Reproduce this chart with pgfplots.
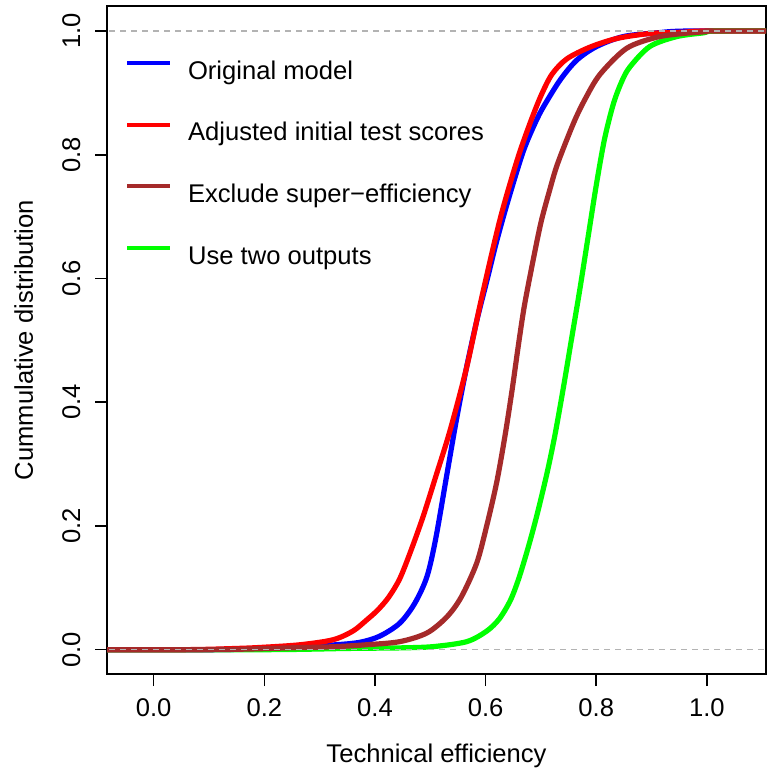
\documentclass[border=0pt]{standalone}
\usepackage{fontspec}
\setmainfont{Liberation Sans}
\usepackage{pgfplots}
\pgfplotsset{compat=1.18}
\usetikzlibrary{calc}

\definecolor{rbrown}{RGB}{165,42,42}
\definecolor{rgreen}{RGB}{0,255,0}
\definecolor{gray70}{RGB}{179,179,179}

\newcommand{\rfont}{\fontsize{12.8}{15}\selectfont}

\begin{document}
\begin{tikzpicture}
\begin{axis}[
    name=ax,
    scale only axis,
    width=329.5pt, height=334pt,
    xmin=-0.0844, xmax=1.107,
    ymin=-0.0393, ymax=1.0404,
    xtick={0,0.2,0.4,0.6,0.8,1.0},
    ytick={0,0.2,0.4,0.6,0.8,1.0},
    xtick pos=bottom, ytick pos=left,
    tick align=outside,
    major tick length=6pt,
    axis line style={line width=0.8pt},
    tick style={line width=0.8pt, black},
    /pgf/number format/.cd, fixed, fixed zerofill, precision=1, assume math mode=true,
    /pgfplots/.cd,
    xticklabel style={font=\rfont, anchor=base, yshift=-15.3pt},
    yticklabel style={font=\rfont, xshift=-7.5pt, rotate=90, anchor=base},
    xlabel={Technical efficiency},
    ylabel={Cummulative distribution},
    xlabel style={font=\rfont, at={(axis description cs:0.5,-0.1332)}, anchor=base},
    ylabel style={font=\rfont, at={(axis description cs:-0.1123,0.5)}, anchor=base},
    legend cell align=left,
    legend style={draw=none, fill=none, inner sep=0pt, outer sep=0pt,
                  at={(axis description cs:0.028,0.919)}, anchor=north west,
                  font=\rfont, row sep=18.65pt, column sep=7.8pt,
                  nodes={inner sep=0pt, text height=9.5pt, text depth=2.7pt}},
    legend image code/.code={\draw[line width=2pt, #1] (0pt,4.6pt) -- (21.5pt,4.6pt);},
    every axis plot/.append style={line width=2.6pt, line join=round, smooth, tension=0.5},
]
\addplot[blue] coordinates {
(-0.2,0) (0.10,0.000) (0.20,0.002) (0.283,0.006) (0.33,0.008) (0.373,0.012)
(0.409,0.022) (0.445,0.043) (0.472,0.075) (0.494,0.118) (0.510,0.180)
(0.530,0.283) (0.548,0.375) (0.566,0.458) (0.585,0.535) (0.602,0.595)
(0.620,0.660) (0.641,0.727) (0.668,0.805) (0.690,0.852) (0.705,0.878)
(0.735,0.921) (0.765,0.953) (0.801,0.975) (0.849,0.991) (0.910,0.997)
(0.97,1.0) (1.2,1.0)};
\addplot[red] coordinates {
(-0.2,0) (0.05,0.000) (0.15,0.002) (0.20,0.004) (0.265,0.008) (0.324,0.016)
(0.36,0.030) (0.385,0.048) (0.405,0.064) (0.425,0.085) (0.445,0.115)
(0.465,0.160) (0.487,0.215) (0.510,0.280) (0.536,0.355) (0.566,0.457)
(0.592,0.565) (0.626,0.695) (0.657,0.791) (0.680,0.850) (0.700,0.895)
(0.720,0.930) (0.747,0.955) (0.789,0.974) (0.838,0.988) (0.898,0.996)
(0.957,0.998) (1.0,1.0) (1.2,1.0)};
\addplot[rgreen, forget plot] coordinates {
(-0.2,0) (0.2,0.000) (0.35,0.002) (0.45,0.003) (0.506,0.005) (0.566,0.013)
(0.602,0.030) (0.625,0.050) (0.645,0.080) (0.660,0.115) (0.677,0.165)
(0.693,0.218) (0.711,0.285) (0.725,0.345) (0.740,0.420) (0.755,0.500)
(0.770,0.580) (0.785,0.665) (0.800,0.750) (0.815,0.825) (0.831,0.882)
(0.846,0.918) (0.861,0.942) (0.897,0.975) (0.946,0.991) (0.994,0.997)
(1.02,1.0) (1.2,1.0)};
\addplot[rbrown] coordinates {
(-0.2,0) (0.10,0.000) (0.25,0.003) (0.33,0.005) (0.385,0.008) (0.445,0.013)
(0.494,0.027) (0.530,0.053) (0.556,0.085) (0.584,0.140) (0.602,0.200)
(0.620,0.270) (0.635,0.345) (0.648,0.420) (0.659,0.490) (0.670,0.555)
(0.685,0.625) (0.700,0.690) (0.715,0.740) (0.730,0.785) (0.759,0.851)
(0.780,0.890) (0.807,0.930) (0.855,0.972) (0.910,0.990) (0.958,0.996)
(1.000,0.999) (1.01,1.0) (1.2,1.0)};
\addlegendimage{rgreen}
% reference lines at 0 and 1
\addplot[gray70, line width=0.7pt, dash pattern=on 3pt off 2.5pt, forget plot, sharp plot]
  coordinates {(-0.2,0) (1.2,0)};
\addplot[gray70, line width=0.7pt, dash pattern=on 3pt off 2.5pt, forget plot, sharp plot]
  coordinates {(-0.2,1) (1.2,1)};
\legend{Original model, Adjusted initial test scores, Exclude super\char"2212 efficiency, Use two outputs}
\end{axis}
\pgfresetboundingbox
\path ($(ax.south west)+(-53.5pt,-47.5pt)$) rectangle ($(ax.north east)+(0pt,3pt)$);
\end{tikzpicture}
\end{document}
